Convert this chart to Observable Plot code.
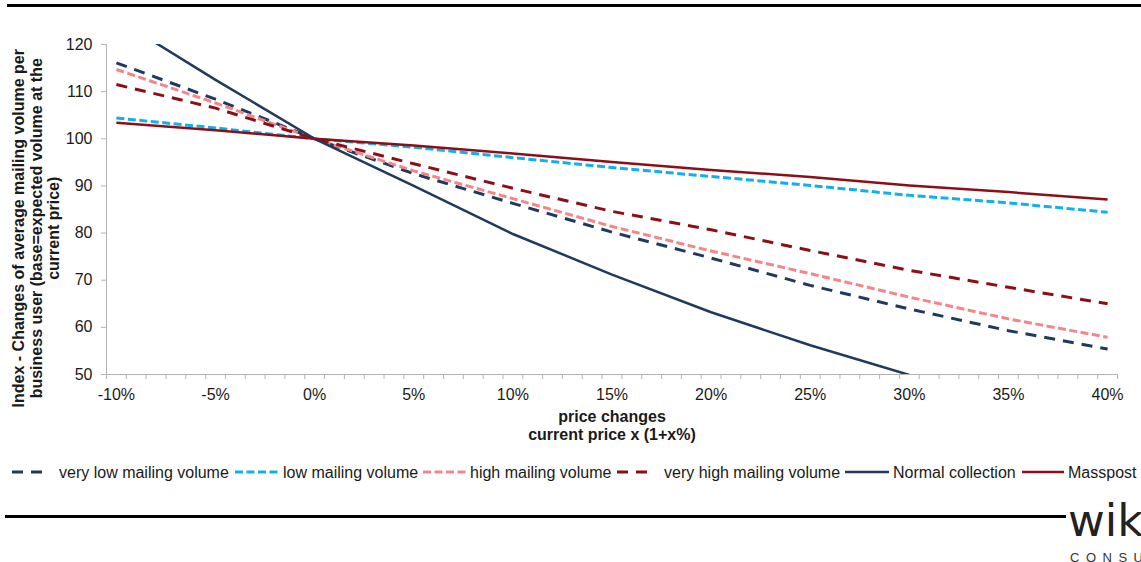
<!DOCTYPE html>
<html>
<head>
<meta charset="utf-8">
<script src="https://cdn.jsdelivr.net/npm/d3@7"></script>
<script src="https://cdn.jsdelivr.net/npm/@observablehq/plot@0.6"></script>
<style>
  body { margin: 0; background: #fff; font-family: "Liberation Sans", Arial, sans-serif; color: #1a1a1a; }
  #page { position: relative; width: 1141px; height: 562px; overflow: hidden; background: #fff; }
  #chart { position: absolute; left: 0; top: 0; }
  .rule { position: absolute; background: #000; height: 3px; }
  .ytitle { position: absolute; width: 380px; left: -154.5px; top: 201.75px; height: 52.5px;
            transform: rotate(-90deg); transform-origin: 50% 50%; text-align: center;
            font-weight: bold; font-size: 16px; line-height: 17.5px; white-space: nowrap; }
  .xtitle { position: absolute; left: 412px; width: 400px; top: 408px; text-align: center;
            font-weight: bold; font-size: 16px; line-height: 18px; }
  .legend-item { position: absolute; top: 463px; height: 20px; font-size: 16px; line-height: 20px; white-space: nowrap; }
  .logo { position: absolute; left: 1068px; top: 495px; font-family: "DejaVu Sans", sans-serif;
          font-size: 45px; color: #222; line-height: 52px; }
  .logo-sub { position: absolute; left: 1070px; top: 550px; font-size: 13px; letter-spacing: 6.5px; color: #333; line-height: 16px; white-space: nowrap; }
</style>
</head>
<body>
<div id="page">
  <div id="chart"></div>
  <div class="rule" style="left:7px; top:4px; width:1134px;"></div>
  <div class="rule" style="left:5px; top:515px; width:1061px;"></div>
  <div class="ytitle">Index - Changes of average mailing volume per<br>business user (base=expected volume at the<br>current price)</div>
  <div class="xtitle">price changes<br>current price x (1+x%)</div>
  <div class="logo">wik</div>
  <div class="logo-sub">CONSULT</div>
</div>
<script>
// Price change steps (percent) and the index of mailing volume per business user
const priceSteps = [-10, -5, 0, 5, 10, 15, 20, 25, 30, 35, 40];
const veryLowVolume  = [116.1, 108.4, 100, 92.6, 86.3, 80.2, 74.7, 68.9, 63.9, 59.3, 55.4];
const lowVolume      = [104.4, 102.3, 100, 98.2, 96.0, 93.9, 92.0, 90.1, 88.0, 86.4, 84.4];
const highVolume     = [114.7, 107.6, 100, 93.2, 87.3, 81.4, 76.2, 71.4, 66.4, 61.8, 57.9];
const veryHighVolume = [111.5, 106.5, 100, 94.7, 89.5, 84.6, 80.7, 76.3, 72.1, 68.5, 65.0];
const massPost       = [103.4, 101.8, 100, 98.6, 96.9, 95.1, 93.4, 91.9, 90.1, 88.7, 87.1];
// Normal collection falls below the axis minimum after +30%
const normalSteps      = [-10, -5, 0, 5, 10, 15, 20, 25, 30];
const normalCollection = [125.5, 112.5, 100, 90.0, 79.8, 71.2, 63.2, 56.2, 49.9];

const seriesNames = ["very low mailing volume", "low mailing volume", "high mailing volume",
                     "very high mailing volume", "Normal collection", "Masspost"];
const yTicks = [50, 60, 70, 80, 90, 100, 110, 120];
const xTickLabels = [-10, -5, 0, 5, 10, 15, 20, 25, 30, 35, 40];

const navy = "#1f3a5c", cyan = "#10b0ee", pink = "#f4868a", darkRed = "#8c0f17";

const series = [
  {name: seriesNames[0], steps: priceSteps, values: veryLowVolume, color: navy, dash: "11,8", width: 3},
  {name: seriesNames[1], steps: priceSteps, values: lowVolume, color: cyan, dash: "8,3.5", width: 3},
  {name: seriesNames[2], steps: priceSteps, values: highVolume, color: pink, dash: "8,3.5", width: 3},
  {name: seriesNames[3], steps: priceSteps, values: veryHighVolume, color: darkRed, dash: "11,8", width: 3},
  {name: seriesNames[4], steps: normalSteps, values: normalCollection, color: navy, dash: null, width: 2.5},
  {name: seriesNames[5], steps: priceSteps, values: massPost, color: darkRed, dash: null, width: 2.5}
];

const xDomain = [-10.5, 40.5];
const yDomain = [50, 120];
// category boundaries carry the small tick marks along the x axis
const boundaryTicks = d3.range(xDomain[0], xDomain[1] + 0.01, 1);
const axisGray = "#b4b4b4";

const lineMarks = series.map(s =>
  Plot.line(s.steps.map((p, i) => ({price: p, index: s.values[i]})), {
    x: "price", y: "index", stroke: s.color, strokeWidth: s.width,
    strokeDasharray: s.dash, strokeLinecap: "butt", strokeLinejoin: "round", clip: true
  })
);

const chart = Plot.plot({
  width: 1141,
  height: 450,
  marginTop: 44,
  marginBottom: 76,
  marginLeft: 106,
  marginRight: 24,
  style: {fontFamily: "'Liberation Sans', Arial, sans-serif", fontSize: "16px", color: "#1a1a1a", background: "transparent"},
  x: {domain: xDomain},
  y: {domain: yDomain},
  marks: [
    Plot.ruleY([yDomain[0]], {stroke: axisGray}),
    Plot.ruleX([xDomain[0]], {stroke: axisGray}),
    Plot.axisY({ticks: yTicks, tickSize: 5, tickPadding: 9, stroke: axisGray, fill: "#1a1a1a", label: null}),
    Plot.axisX({ticks: boundaryTicks, tickSize: 5, tickFormat: () => "", stroke: axisGray, label: null}),
    Plot.axisX({ticks: xTickLabels, tickSize: 0, tickPadding: 14, tickFormat: d => `${d}%`, fill: "#1a1a1a", label: null}),
    ...lineMarks
  ]
});
document.getElementById("chart").appendChild(chart);

// legend row below the chart
const legendLayout = [
  {sample: 12, w: 34, text: 59},
  {sample: 235, w: 44, text: 283},
  {sample: 423, w: 43, text: 470},
  {sample: 617, w: 35, text: 664},
  {sample: 845, w: 44, text: 893},
  {sample: 1022, w: 42, text: 1068}
];
const page = document.getElementById("page");
series.forEach((s, i) => {
  const L = legendLayout[i];
  const svg = d3.create("svg")
    .attr("width", L.w).attr("height", 8)
    .style("position", "absolute").style("left", L.sample + "px").style("top", "468px");
  svg.append("line")
    .attr("x1", 0).attr("x2", L.w).attr("y1", 4).attr("y2", 4)
    .attr("stroke", s.color).attr("stroke-width", s.width)
    .attr("stroke-dasharray", s.dash);
  page.appendChild(svg.node());
  const label = document.createElement("div");
  label.className = "legend-item";
  label.style.left = L.text + "px";
  label.textContent = s.name;
  page.appendChild(label);
});
</script>
</body>
</html>
